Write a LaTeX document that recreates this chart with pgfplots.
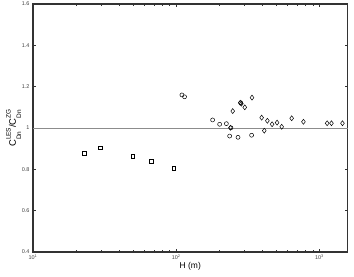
\documentclass[border=0pt]{standalone}
\usepackage{pgfplots}
\pgfplotsset{compat=1.18}
\usepackage{fontspec}
\setmainfont{Liberation Sans}
\setsansfont{Liberation Sans}
\newcommand\supsub[2]{$\vcenter{\hbox{\fontsize{6.5}{6.5}\selectfont #1}\kern0.5pt\hbox{\fontsize{6.5}{6.5}\selectfont #2}}$}
\begin{document}
\begin{tikzpicture}
\begin{axis}[
  at={(0,0)}, anchor=south west,
  scale only axis,
  width=314.5bp, height=248bp,
  xmode=log,
  xmin=10, xmax=1570,
  ymin=0.4, ymax=1.6,
  ytick={0.4,0.6,0.8,1,1.2,1.4,1.6},
  yticklabels={0.4,0.6,0.8,1,1.2,1.4,1.6},
  xtick={10,100,1000},
  xticklabels={10\textsuperscript{1},10\textsuperscript{2},10\textsuperscript{3}},
  tick align=inside,
  major tick length=3bp,
  minor tick length=2bp,
  axis line style={draw=black!80, line width=1.1pt},
  tick style={draw=black!80, line width=0.6pt},
  tick label style={font=\fontsize{5.5}{6}\selectfont, text=black!75},
  xticklabel style={yshift=1bp},
  xlabel={H (m)},
  xlabel style={font=\fontsize{8.5}{9}\selectfont, yshift=4bp},
  ylabel={C\supsub{LES}{Dn}/C\supsub{ZG}{Dn}},
  ylabel style={font=\fontsize{9.5}{10}\selectfont, yshift=-6bp},
  clip=false,
]
\addplot[black!45, line width=0.9pt] coordinates {(10,1) (1570,1)};
% squares
\addplot[only marks, mark=square, mark size=1.8bp, mark options={line width=0.5pt, black}] coordinates {
(22.7,0.879) (29.4,0.905) (49.8,0.864) (66.8,0.839) (96.4,0.806)
};
% circles
\addplot[only marks, mark=o, mark size=2.0bp, mark options={line width=0.5pt, black}] coordinates {
(109.6,1.160) (114.3,1.151) (179.5,1.039) (201,1.018) (224,1.021) (241,1.001)
(236,0.961) (270,0.955) (282,1.122) (336,0.965)
};
% diamonds
\addplot[only marks, mark=diamond, mark size=2.5bp, mark options={line width=0.5pt, black}] coordinates {
(239,1.001) (248,1.082) (280,1.122) (285,1.118) (301,1.100) (338,1.147)
(395,1.050) (412,0.987) (433,1.035) (467,1.018) (506,1.026) (545,1.006)
(640,1.047) (773,1.030) (1132,1.023) (1213,1.023) (1448,1.023)
};
\end{axis}
\pgfresetboundingbox
\path[use as bounding box] (-33bp,-25bp) rectangle (321bp,252bp);
\end{tikzpicture}
\end{document}
